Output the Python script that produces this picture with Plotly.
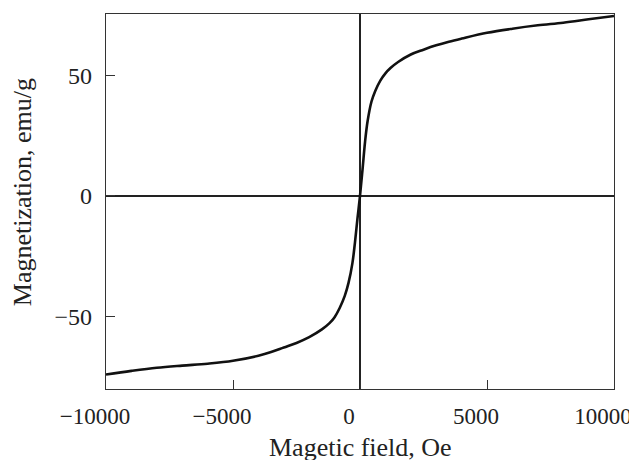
import plotly.graph_objects as go

field_oe = [-10000, -9000, -8000, -7000, -6000, -5000, -4000, -3500, -3000, -2500, -2000,
            -1500, -1200, -1000, -800, -600, -450, -300, -200, -100, 0, 100, 200, 300, 450,
            600, 800, 1000, 1200, 1500, 2000, 2500, 3000, 3500, 4000, 5000, 6000, 7000,
            8000, 9000, 10000]
magnetization = [-74.1, -72.6, -71.3, -70.4, -69.6, -68.4, -66.3, -64.8, -62.9, -61.0, -58.6,
                 -55.4, -52.8, -50.3, -46.5, -41.5, -36.0, -28.0, -19.5, -9.5, 0.0, 11.0, 22.5, 31.0, 39.0,
                 43.5, 47.8, 50.8, 53.0, 55.5, 58.6, 60.6, 62.4, 63.9, 65.2, 67.6, 69.3, 70.7,
                 71.8, 73.2, 74.6]
x_ticks = [-10000, -5000, 0, 5000, 10000]
x_tick_text = ["\u221210000", "\u22125000", "0", "5000", "10000"]
y_ticks = [-50, 0, 50]
y_tick_text = ["\u221250", "0", "50"]
x_title = "Magetic field, Oe"
y_title = "Magnetization, emu/g"

font_family = "Liberation Serif"
ink = "#222222"

fig = go.Figure()
fig.add_trace(go.Scatter(x=field_oe, y=magnetization, mode="lines",
                         line=dict(color="#111111", width=2.6, shape="spline", smoothing=1.0),
                         showlegend=False))

fig.update_layout(
    width=629, height=452,
    margin=dict(l=98, r=23, t=6, b=71),
    paper_bgcolor="white", plot_bgcolor="white",
    font=dict(family=font_family, color=ink, size=24),
)
fig.update_xaxes(
    range=[-10000, 10000], tickvals=x_ticks, ticktext=x_tick_text, ticks="inside", ticklen=9,
    tickwidth=1.3, tickcolor="#333333", showgrid=False, showline=True, linecolor="#333333",
    linewidth=1.4, mirror=True, zeroline=True, zerolinecolor=ink, zerolinewidth=1.6,
    automargin=False, ticklabeloverflow="allow", ticklabelshift=-11, ticklabelstandoff=6,
    tickfont=dict(size=23, family=font_family, color=ink),
)
fig.update_yaxes(
    range=[-80.1, 75.4], tickvals=y_ticks, ticktext=y_tick_text, ticks="inside", ticklen=9,
    tickwidth=1.3, tickcolor="#333333", showgrid=False, showline=True, linecolor="#333333",
    linewidth=1.4, mirror=True, zeroline=True, zerolinecolor=ink, zerolinewidth=1.6,
    automargin=False, ticklabeloverflow="allow", ticklabelstandoff=8,
    tickfont=dict(size=24, family=font_family, color=ink),
)
fig.add_annotation(text=x_title, xref="paper", yref="paper", x=0.5, y=0,
                   xanchor="center", yanchor="middle", yshift=-58, showarrow=False,
                   font=dict(size=26, family=font_family, color=ink))
fig.add_annotation(text=y_title, xref="paper", yref="paper", x=0, y=0.525,
                   xanchor="center", yanchor="middle", xshift=-84, textangle=-90,
                   showarrow=False, font=dict(size=26, family=font_family, color=ink))

fig.write_html("out.html")
